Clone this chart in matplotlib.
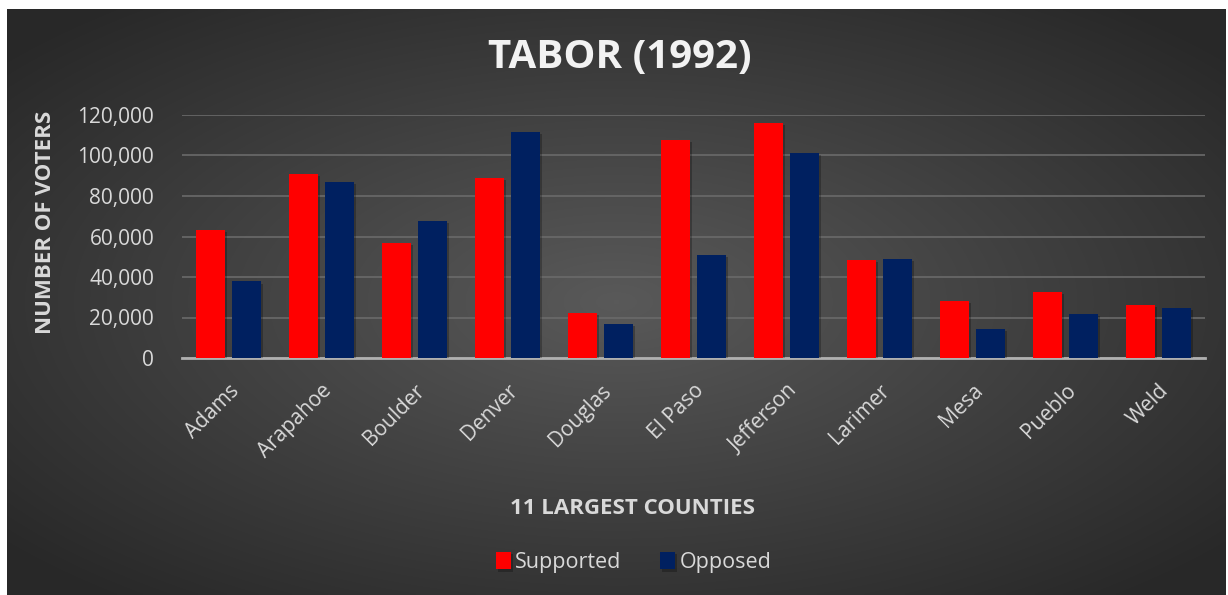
import numpy as np
import matplotlib
matplotlib.use("Agg")
from matplotlib import pyplot as plt
import matplotlib.patheffects as pe

plt.rcParams['font.family'] = ['Open Sans', 'DejaVu Sans']

counties = ['Adams', 'Arapahoe', 'Boulder', 'Denver', 'Douglas', 'El Paso',
            'Jefferson', 'Larimer', 'Mesa', 'Pueblo', 'Weld']
supported = [63300, 91000, 56700, 89100, 22200, 107700, 115900, 48600, 28100, 32400, 26400]
opposed = [37800, 87100, 67700, 111600, 16600, 51000, 101400, 48800, 14300, 21900, 24800]
yticks = [0, 20000, 40000, 60000, 80000, 100000, 120000]

red = '#ff0000'
navy = '#002060'
txt = '#d9d9d9'

fig = plt.figure(figsize=(12.28, 5.95), dpi=100, facecolor='white')

# dark radial gradient background
bg = fig.add_axes([7 / 1228, 0, 1219 / 1228, 586 / 595])
bg.set_axis_off()
gx, gy = np.meshgrid(np.linspace(-1, 1, 400), np.linspace(-1, 1, 200))
r = np.clip(np.sqrt(gx ** 2 + gy ** 2) / 1.3, 0, 1)
shade = 0.35 - 0.19 * r
img = np.dstack([shade, shade, shade])
bg.imshow(img, aspect='auto', extent=[0, 1, 0, 1], interpolation='bilinear')
bg.set_xlim(0, 1)
bg.set_ylim(0, 1)

ax = fig.add_axes([182 / 1228, 237 / 595, 1023 / 1228, 243 / 595])
ax.patch.set_alpha(0)

x = np.arange(len(counties))
w = 0.312
off = 0.196
shadow = [pe.SimplePatchShadow(offset=(1.5, -1.5), shadow_rgbFace='black', alpha=0.25), pe.Normal()]
b1 = ax.bar(x - off, supported, w, color=red, label='Supported', zorder=3)
b2 = ax.bar(x + off, opposed, w, color=navy, label='Opposed', zorder=3)
for b in list(b1) + list(b2):
    b.set_path_effects(shadow)

ax.set_xlim(-0.5, len(counties) - 0.5)
ax.set_ylim(0, 120000)
ax.set_yticks(yticks)
ax.set_yticklabels([f'{v:,}' for v in yticks])
ax.yaxis.grid(True, color='#6a6a6a', lw=1.2, zorder=0)
ax.set_axisbelow(True)
for s in ['top', 'right', 'left']:
    ax.spines[s].set_visible(False)
ax.spines['bottom'].set_color('#b0b0b0')
ax.spines['bottom'].set_linewidth(2)
ax.tick_params(axis='both', length=0, colors=txt, labelsize=15)
ax.tick_params(axis='y', pad=20)
ax.set_xticks(x)
ax.set_xticklabels(counties, rotation=45, ha='right', rotation_mode='anchor')
ax.tick_params(axis='x', pad=16)

fig.text(0.505, 0.904, 'TABOR (1992)', ha='center', va='center', color='#f2f2f2',
         fontsize=29, fontweight='bold')
fig.text(0.037, 0.627, 'NUMBER OF VOTERS', ha='center', va='center', rotation=90,
         color=txt, fontsize=16, fontweight='bold')
fig.text(0.515, 0.145, '11 LARGEST COUNTIES', ha='center', va='center', color=txt,
         fontsize=16, fontweight='bold')

leg = fig.legend(handles=[b1, b2], loc='center', bbox_to_anchor=(0.516, 0.055), ncol=2,
                 frameon=False, fontsize=15.5, labelcolor=txt, handlelength=0.7,
                 handleheight=0.9, handletextpad=0.2, columnspacing=1.8)

fig.savefig('out.png', dpi=100, facecolor='white')
